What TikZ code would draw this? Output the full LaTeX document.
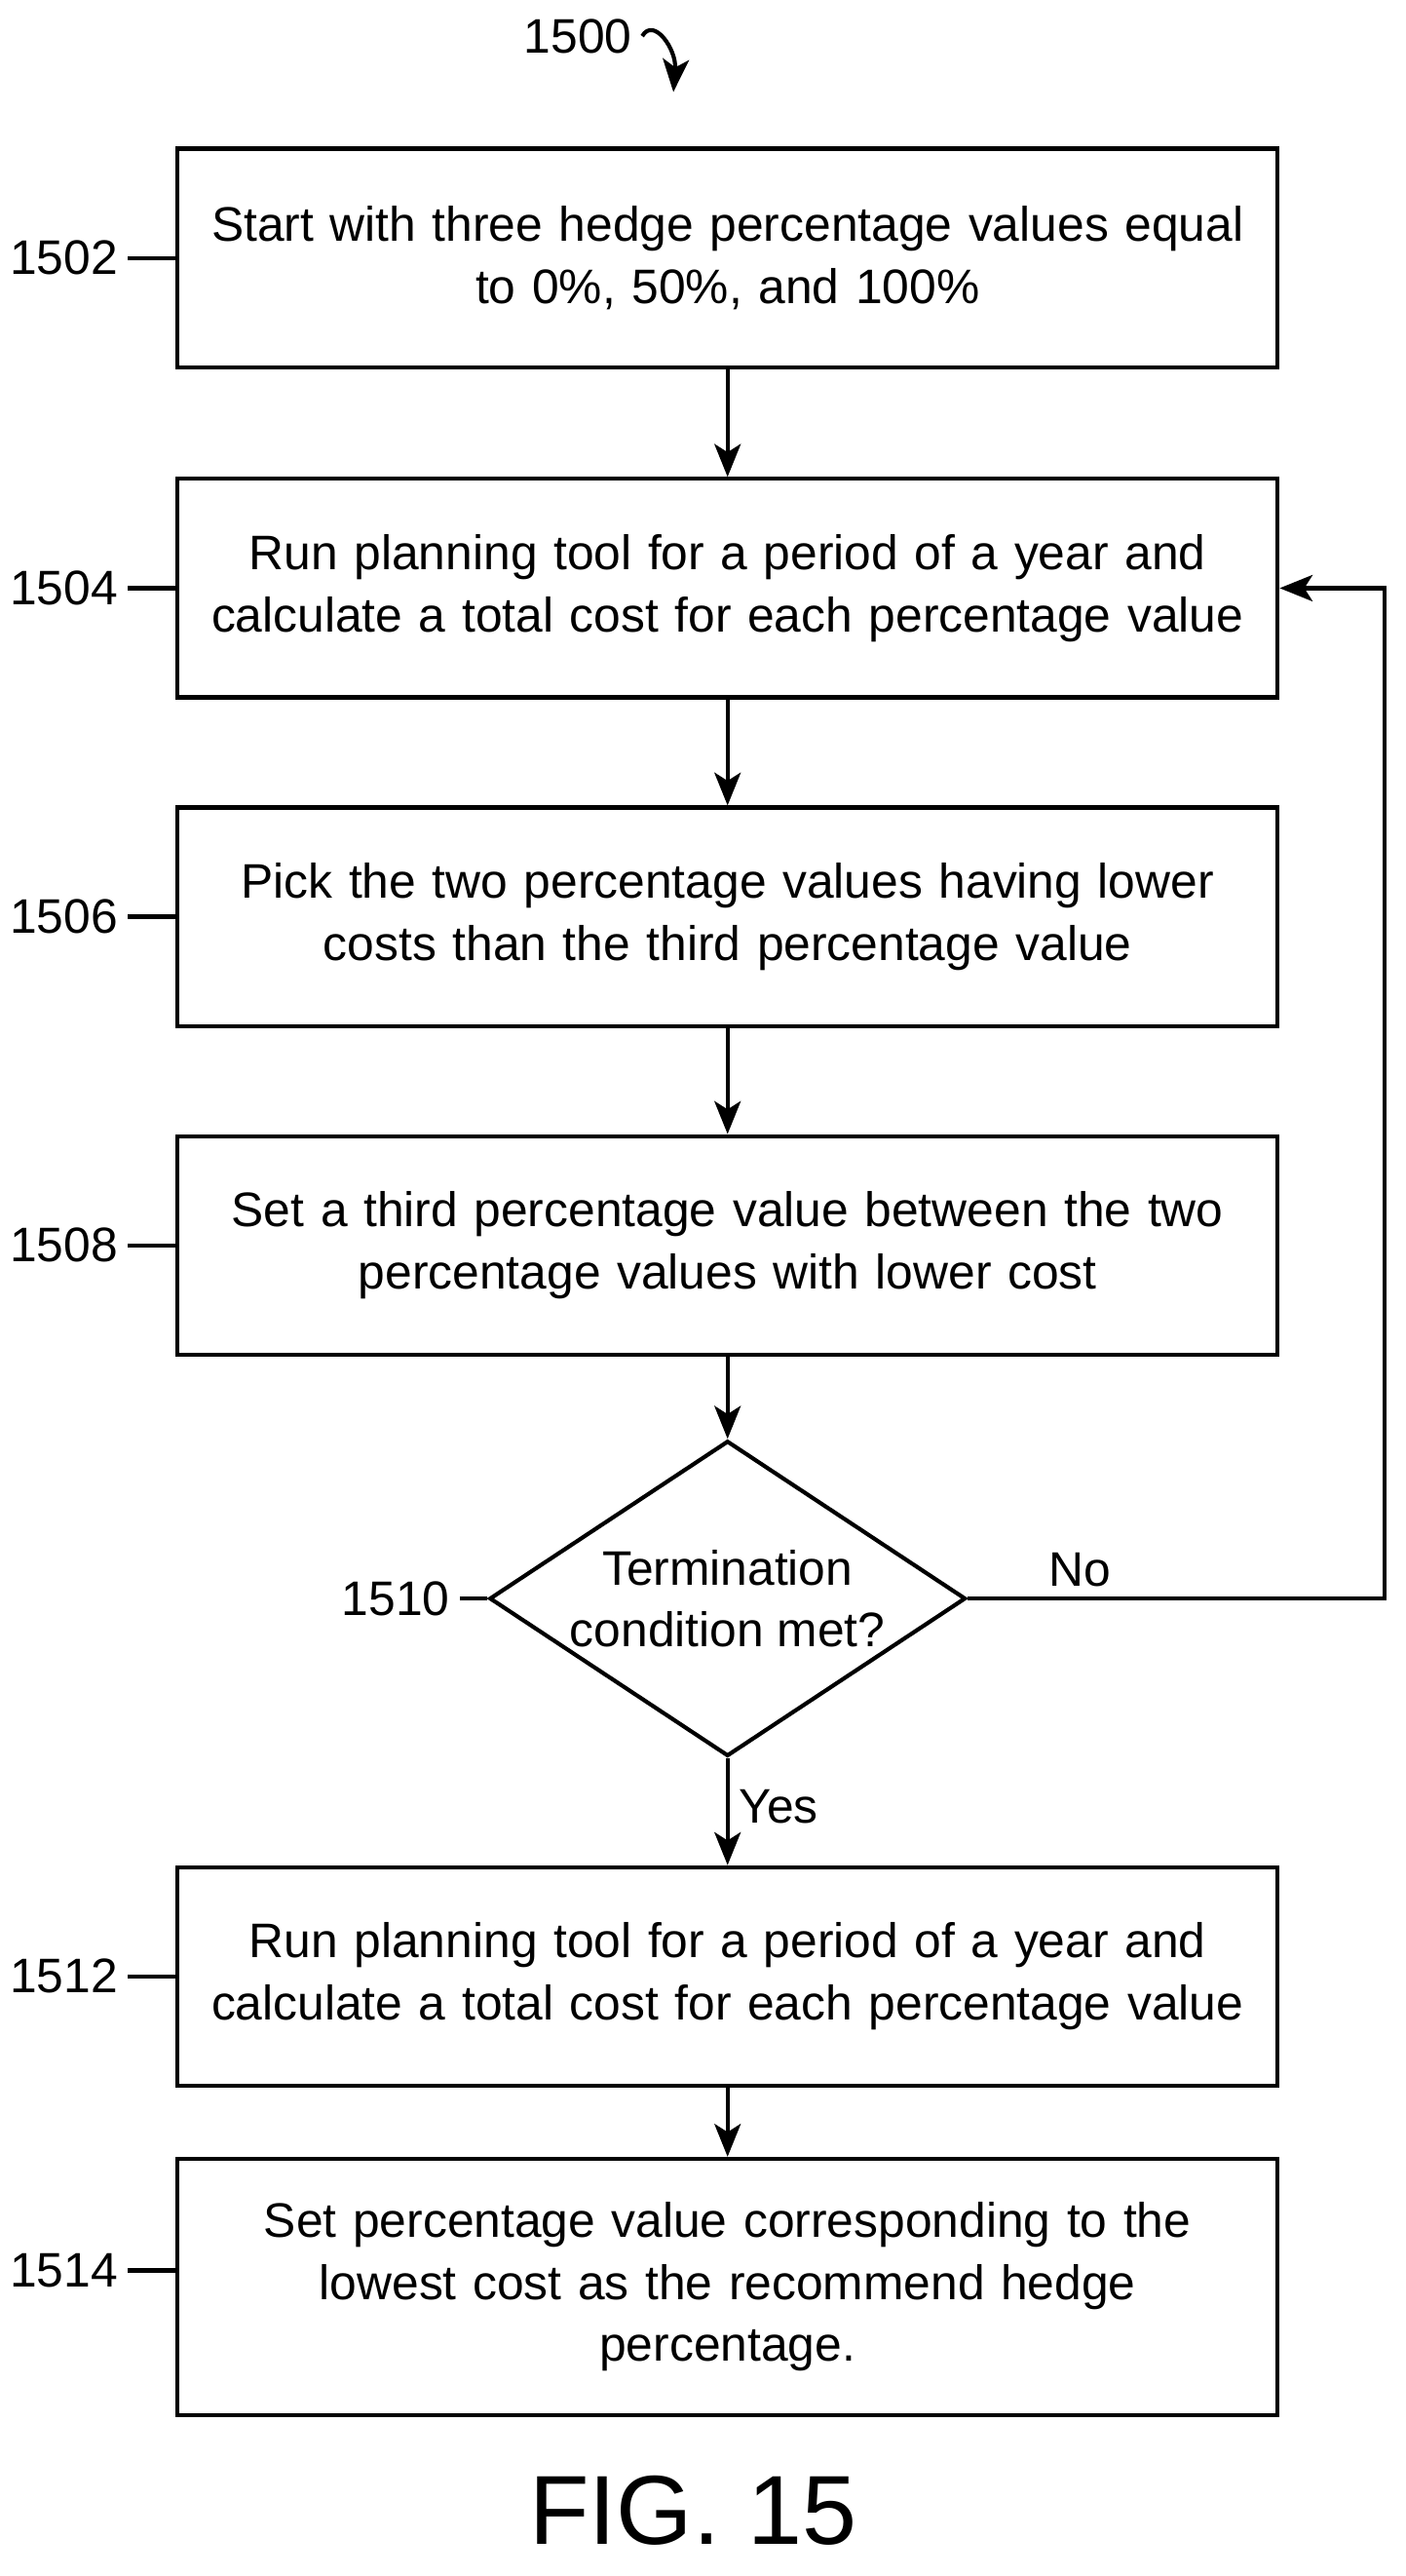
\documentclass[tikz,border=0pt]{standalone}
\usepackage{fontspec}
\setmainfont{Liberation Sans}
\usetikzlibrary{shapes.geometric, arrows, arrows.meta, positioning}
\tikzstyle{stepbox} = [rectangle, draw, line width=1.4pt, minimum width=13.4cm, minimum height=2.66cm, text width=13cm, align=center, font=\fontsize{16.8}{21.5}\selectfont]
\tikzstyle{decision} = [diamond, draw, line width=1.4pt, minimum width=5.8cm, minimum height=3.84cm, shape aspect=1.5, inner sep=0pt, align=center, font=\fontsize{16.8}{21.5}\selectfont]
\tikzstyle{arrow} = [line width=1.4pt,-{Stealth[length=4mm,width=3.2mm,inset=1mm]}]
\tikzstyle{ref} = [font=\fontsize{16.8}{20}\selectfont, anchor=east]
\begin{document}
\begin{tikzpicture}[x=0.02cm, y=-0.02cm]
            \useasboundingbox (0,0) rectangle (856,1568);
            \node (s1502) [stepbox] at (443,157) {Start with three hedge percentage values equal\\to 0\%, 50\%, and 100\%};
            \node (s1504) [stepbox] at (443,358) {Run planning tool for a period of a year and\\calculate a total cost for each percentage value};
            \node (s1506) [stepbox] at (443,558) {Pick the two percentage values having lower\\costs than the third percentage value};
            \node (s1508) [stepbox] at (443,758) {Set a third percentage value between the two\\percentage values with lower cost};
            \node (s1510) [decision] at (443,973) {Termination\\condition met?};
            \node (s1512) [stepbox] at (443,1203) {Run planning tool for a period of a year and\\calculate a total cost for each percentage value};
            \node (s1514) [stepbox, minimum height=3.12cm] at (443,1392) {Set percentage value corresponding to the\\lowest cost as the recommend hedge\\percentage.};

            \draw [arrow] (s1502) -- (s1504);
            \draw [arrow] (s1504) -- (s1506);
            \draw [arrow] (s1506) -- (s1508);
            \draw [arrow] (s1508) -- (s1510);
            \draw [arrow] (s1510) -- node [right, font=\fontsize{16.8}{20}\selectfont, pos=0.45] {Yes} (s1512);
            \draw [arrow] (s1512) -- (s1514);
            \coordinate (loop) at (843,973);
            \draw [arrow] (s1510.east) -- node [above, font=\fontsize{16.8}{20}\selectfont, pos=0.27] {No} (loop) |- (s1504.east);

            % reference numerals
            \foreach \n/\y in {1502/157, 1504/358, 1506/558, 1508/758, 1512/1203, 1514/1382} {
                \node (l\n) [ref] at (78,\y) {\n};
                \draw [line width=1.4pt] (l\n.east) -- (108,\y);
            }
            \node (l1510) [ref] at (280,973) {1510};
            \draw [line width=1.4pt] (l1510.east) -- (s1510.west);

            \node (l1500) [font=\fontsize{16.8}{20}\selectfont] at (352,22) {1500};
            \coordinate (tip) at (410,56);
            \draw [arrow] (l1500.east) .. controls (398,10) and (412,30) .. (tip);

            \node (fig) [font=\fontsize{34}{40}\selectfont] at (422,1528) {FIG. 15};
        \end{tikzpicture}
\end{document}
